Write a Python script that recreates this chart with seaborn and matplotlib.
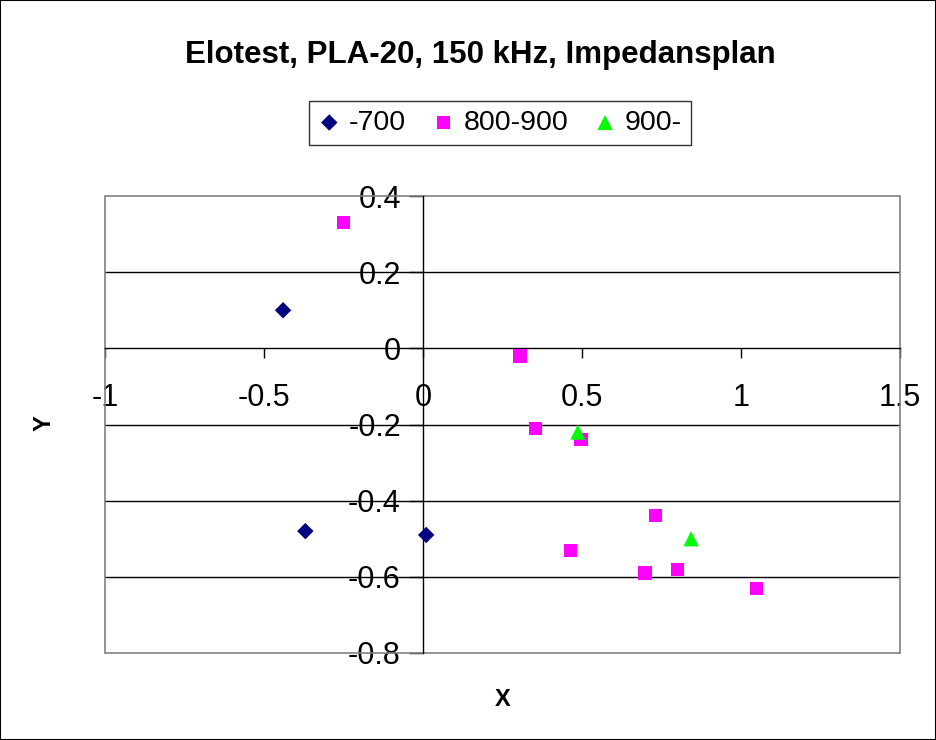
import matplotlib
matplotlib.use("Agg")
import matplotlib.pyplot as plt
from matplotlib.patches import Rectangle
import seaborn as sns
import pandas as pd

# ---- data ----
s700_x = [-0.44, -0.37, 0.01]
s700_y = [0.10, -0.48, -0.49]
s800_x = [-0.25, 0.305, 0.355, 0.497, 0.465, 0.73, 0.698, 0.80, 1.05]
s800_y = [0.33, -0.02, -0.21, -0.24, -0.53, -0.44, -0.59, -0.58, -0.63]
s900_x = [0.487, 0.843]
s900_y = [-0.22, -0.50]
series_names = ["-700", "800-900", "900-"]
x_ticks = [-1, -0.5, 0, 0.5, 1, 1.5]
x_tick_labels = ["-1", "-0.5", "0", "0.5", "1", "1.5"]
y_ticks = [-0.8, -0.6, -0.4, -0.2, 0, 0.2, 0.4]
y_tick_labels = ["-0.8", "-0.6", "-0.4", "-0.2", "0", "0.2", "0.4"]
title = "Elotest, PLA-20, 150 kHz, Impedansplan"

df = pd.DataFrame({
    "x": s700_x + s800_x + s900_x,
    "y": s700_y + s800_y + s900_y,
    "series": [series_names[0]] * len(s700_x) + [series_names[1]] * len(s800_x) + [series_names[2]] * len(s900_x),
})

sns.set_style("white")
plt.rcParams["font.family"] = ["Liberation Sans", "DejaVu Sans"]
plt.rcParams["text.color"] = "black"
plt.rcParams["xtick.color"] = "black"
plt.rcParams["ytick.color"] = "black"
plt.rcParams["xtick.labelcolor"] = "black"
plt.rcParams["ytick.labelcolor"] = "black"

fig = plt.figure(figsize=(9.36, 7.4), dpi=100)
ax = fig.add_axes([105 / 936, 1 - 653 / 740, 795 / 936, 457 / 740])

palette = {series_names[0]: "#000080", series_names[1]: "#FF00FF", series_names[2]: "#00FF00"}
markers = {series_names[0]: "D", series_names[1]: "s", series_names[2]: "^"}
sizes = {series_names[0]: 70, series_names[1]: 90, series_names[2]: 120}
for name in series_names:
    sub = df[df["series"] == name]
    sns.scatterplot(data=sub, x="x", y="y", color=palette[name], marker=markers[name],
                    s=sizes[name], edgecolor="none", linewidth=0, ax=ax, label=name, zorder=5)

ax.set_xlim(-1, 1.5)
ax.set_ylim(-0.8, 0.4)
ax.set_xticks(x_ticks)
ax.set_xticklabels(x_tick_labels)
ax.set_yticks(y_ticks)
ax.set_yticklabels(y_tick_labels)
ax.set_xlabel("")
ax.set_ylabel("")

# gridlines (horizontal)
for yv in y_ticks:
    if yv not in (0, -0.8, 0.4):
        ax.axhline(yv, color="black", lw=1.0, zorder=1)

ax.spines["left"].set_position(("data", 0))
ax.spines["bottom"].set_position(("data", 0))
for sp in ("left", "bottom"):
    ax.spines[sp].set_color("black")
    ax.spines[sp].set_linewidth(1.0)
    ax.spines[sp].set_zorder(2)
ax.spines["top"].set_visible(False)
ax.spines["right"].set_visible(False)
ax.add_patch(Rectangle((0, 0), 1, 1, transform=ax.transAxes, fill=False,
                       edgecolor="#808080", lw=1.2, zorder=1, clip_on=False))

ax.tick_params(axis="x", direction="out", length=7, width=1, color="black",
               labelsize=22, pad=18, bottom=True, labelcolor="black")
ax.tick_params(axis="y", direction="out", length=10, width=1, color="black",
               labelsize=22, pad=6, left=True, labelcolor="black")

fig.text(480 / 936, 1 - 55 / 740, title, ha="center", va="center",
         fontsize=22.5, fontweight="bold", color="black")
fig.text(503 / 936, 1 - 700 / 740, "X", ha="center", va="center",
         fontsize=17, fontweight="heavy", color="black")
fig.text(44 / 936, 1 - 423 / 740, "Y", ha="center", va="center",
         fontsize=17, fontweight="heavy", rotation=90, color="black")

leg = ax.legend(loc="center", bbox_to_anchor=(500 / 936, 1 - 123 / 740),
                bbox_transform=fig.transFigure, ncol=3, frameon=True,
                fontsize=20.5, handletextpad=0.3, columnspacing=0.9,
                borderpad=0.3, handlelength=0.8, markerscale=1.0, fancybox=False)
leg.get_frame().set_edgecolor("black")
leg.get_frame().set_linewidth(1.0)
for t in leg.get_texts():
    t.set_color("black")

fig.patches.append(Rectangle((0, 0), 1, 1, transform=fig.transFigure, fill=False,
                             edgecolor="black", lw=1.5))

fig.savefig("out.png", dpi=100)
